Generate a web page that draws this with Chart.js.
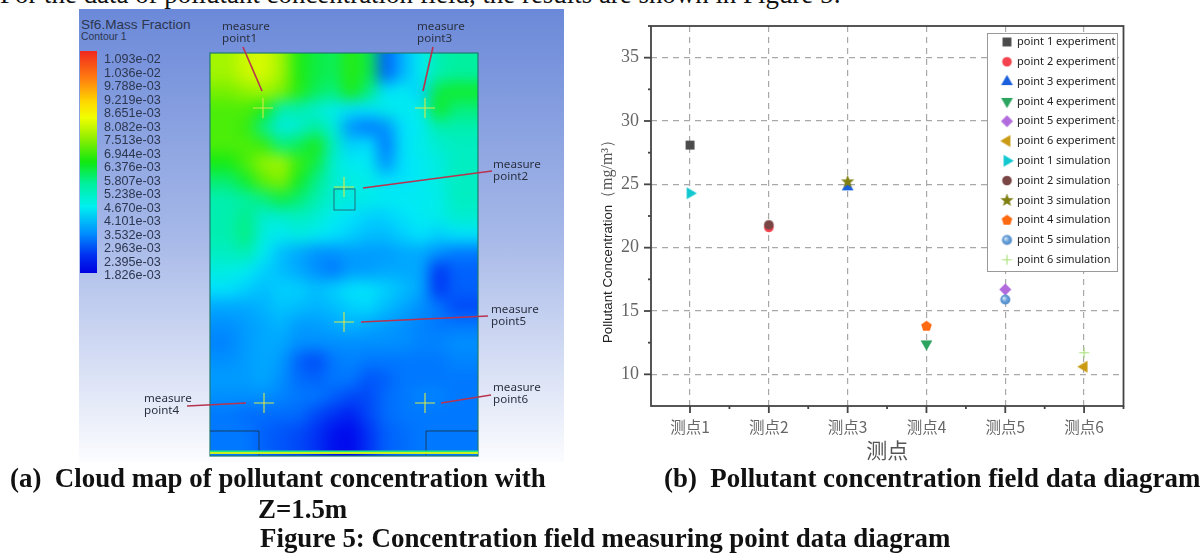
<!DOCTYPE html>
<html>
<head>
<meta charset="utf-8">
<script src="https://cdn.jsdelivr.net/npm/chart.js@4"></script>
<style>
html, body { margin: 0; background: #fff; }
#page { position: relative; width: 1200px; height: 553px; overflow: hidden; font-family: "Liberation Serif", serif; color: #111; }
.cap { position: absolute; font-size: 26.9px; font-weight: bold; white-space: nowrap; line-height: 30px; }
#topline { position: absolute; left: 0; top: -21px; font-size: 26.9px; white-space: nowrap; line-height: 30px; }
#panel { position: absolute; left: 79px; top: 9px; width: 485px; height: 453px; background: linear-gradient(#6b89d9, #a6b8e8 50%, #fbfcfe); }
#fieldClip { position: absolute; left: 210px; top: 53px; width: 268px; height: 403px; overflow: hidden; }
#fieldClip canvas { position: absolute; left: -38px; top: -38px; filter: blur(7.5px); }
#colorbar { position: absolute; left: 80px; top: 51px; width: 17px; height: 222px;
  background: linear-gradient(#f0281e, #ff7a10 12%, #ffd800 23%, #f0ff00 30%, #a0f000 38%, #10e810 50%, #00f0a0 60%, #00f0f0 70%, #0090ff 82%, #0030f0 92%, #0000e0); }
.lev { position: absolute; left: 104px; font: 12.6px "Liberation Sans", sans-serif; color: #2c3650; line-height: 14px; filter: blur(0.3px); }
.mlabel { position: absolute; font: 11.6px/11.8px "Noto Sans", sans-serif; color: #2a3040; white-space: pre; filter: blur(0.3px); }
#overlay { position: absolute; left: 0; top: 0; filter: blur(0.4px); }
#chartBox { position: absolute; left: 590px; top: 10px; width: 610px; height: 453px; filter: blur(0.45px); }
</style>
</head>
<body>
<div id="page">
  <div id="topline">For the data of pollutant concentration field, the results are shown in Figure 5:</div>
  <div id="panel"></div>
  <div id="fieldClip"><canvas id="fieldChart" width="344" height="479"></canvas></div>
  <div id="colorbar"></div>
  <div style="position:absolute;left:81px;top:17px;font:13.6px 'Liberation Sans',sans-serif;color:#2c3650">Sf6.Mass Fraction</div>
  <div style="position:absolute;left:81px;top:31px;font:10.4px 'Liberation Sans',sans-serif;color:#2c3650">Contour 1</div>
  <div id="levels"></div>
  <svg id="overlay" width="1200" height="553"></svg>
  <div id="mlabels"></div>
  <div id="chartBox"><canvas id="scatterChart" width="610" height="453"></canvas></div>
  <div class="cap" style="left:10px;top:463px;">(a)&nbsp; Cloud map of pollutant concentration with</div>
  <div class="cap" style="left:258px;top:494px;">Z=1.5m</div>
  <div class="cap" style="left:664px;top:463px;">(b)&nbsp; Pollutant concentration field data diagram</div>
  <div class="cap" style="left:260px;top:523px;">Figure 5: Concentration field measuring point data diagram</div>
</div>
<script>
// chart data
const categories = ['测点1', '测点2', '测点3', '测点4', '测点5', '测点6'];
const experiment = [28.1, 21.6, 24.8, 12.4, 16.7, 10.6];
const simulation = [24.3, 21.8, 25.2, 13.8, 15.9, 11.7];
const yTicks = [10, 15, 20, 25, 30, 35];

// contour legend
const contourLevels = ['1.093e-02', '1.036e-02', '9.788e-03', '9.219e-03', '8.651e-03', '8.082e-03', '7.513e-03', '6.944e-03', '6.376e-03', '5.807e-03', '5.238e-03', '4.670e-03', '4.101e-03', '3.532e-03', '2.963e-03', '2.395e-03', '1.826e-03'];

// mass fraction (x 1e-3) estimated by eye on a coarse grid, top row first
const fieldRows = [
  [8, 8.5, 8.6, 8, 6.5, 6, 5.8, 6.6, 6, 2.8, 3.5, 4.2, 5, 5.2],
  [7.5, 7.8, 8, 7.6, 6.6, 5.8, 5.5, 6.5, 5.5, 4, 4.2, 3.8, 6, 6.2],
  [7, 7, 6.5, 5, 5, 4.6, 4.3, 4, 4, 4.3, 4.2, 4.3, 6.3, 5.5],
  [7, 6.8, 5.4, 4.4, 4.6, 5.2, 4.5, 3.2, 3, 3.2, 4, 4.2, 5, 5],
  [7, 7, 6.8, 5.5, 5.8, 6.5, 4.8, 3.8, 4, 3, 4, 4.3, 4.6, 4.8],
  [6.4, 7, 7.8, 8, 6.8, 6, 4.6, 4.2, 4.2, 3.2, 4, 4.2, 4.4, 4.8],
  [5.6, 6.2, 7.2, 7.6, 6.3, 5.4, 4.6, 4.4, 4.3, 4, 4, 4.2, 4.4, 4.8],
  [5, 5.2, 5.5, 6, 5.6, 5, 4.6, 4.4, 4.3, 4.2, 4.2, 4.2, 4.3, 4.8],
  [5, 5.4, 4.6, 4.6, 4.8, 4.6, 4.2, 4, 3.8, 3.8, 4, 4.2, 4.3, 4.6],
  [5, 5.5, 4.4, 4.2, 4.4, 4.2, 4, 3.8, 3.6, 3.6, 3.8, 4, 3.8, 4],
  [4.8, 5, 4.2, 3.6, 3.4, 3.2, 3.2, 3.3, 3.3, 3.3, 3.4, 3.4, 3.2, 3],
  [4.4, 4.2, 3.8, 3.6, 3.4, 3.2, 3, 3.3, 3.3, 3.4, 3.4, 3.4, 2.4, 2.8],
  [4, 3.8, 3.6, 3.8, 3.8, 3.6, 3.8, 4, 4, 3.8, 3.6, 3.4, 2.4, 2.8],
  [3.4, 3.4, 3.5, 3.7, 3.6, 3.5, 3.6, 3.8, 3.9, 3.6, 3.4, 3.2, 3, 2.6],
  [3.2, 3.3, 3.4, 3.5, 3.3, 3.3, 3.4, 3.5, 3.4, 3.3, 3.2, 3.1, 3, 3],
  [3.1, 3.3, 3.4, 3.4, 3.2, 3.2, 3.2, 3.2, 3.2, 3.2, 3.2, 3.1, 3.1, 3.2],
  [3.2, 3.3, 3.4, 3.3, 2.8, 2.6, 3, 3.1, 3, 3, 3, 3, 3, 3.1],
  [3.3, 3.3, 3.4, 3.2, 2.9, 2.8, 3, 3, 2.7, 2.8, 3, 3, 3, 3],
  [3.2, 3.2, 3.2, 3.1, 3, 3, 2.8, 2.6, 2.6, 2.9, 3, 3.1, 3.1, 3],
  [3, 2.9, 2.9, 2.9, 2.9, 2.6, 2.4, 2.2, 2.6, 2.9, 3, 3, 3, 3],
  [3, 3, 2.8, 2.7, 2.6, 2.4, 2, 1.9, 2.4, 2.8, 2.9, 3, 3, 3]
];

// markers are small canvases so chart and legend show the same size
function markerCanvas(draw) {
  const c = document.createElement('canvas');
  c.width = 15; c.height = 15;
  draw(c.getContext('2d'), 7.5);
  return c;
}
function ring(n, r, angle, inner) {
  const pts = [];
  const steps = inner ? n * 2 : n;
  for (let i = 0; i < steps; i++) {
    const rad = inner && i % 2 ? inner : r;
    const a = angle + i * 2 * Math.PI / steps;
    pts.push([rad * Math.cos(a), rad * Math.sin(a)]);
  }
  return pts;
}
function polyMark(pts, color) {
  return markerCanvas((ctx, m) => {
    ctx.fillStyle = color;
    ctx.beginPath();
    pts.forEach(p => ctx.lineTo(m + p[0], m + p[1]));
    ctx.closePath();
    ctx.fill();
  });
}
function circleMark(color) {
  return markerCanvas((ctx, m) => {
    ctx.fillStyle = color;
    ctx.beginPath();
    ctx.arc(m, m, 4.8, 0, Math.PI * 2);
    ctx.fill();
  });
}
const sphereMark = markerCanvas((ctx, m) => {
  const g = ctx.createRadialGradient(m - 1.5, m - 1.5, 0.5, m, m, 5);
  g.addColorStop(0, '#d5e6f6');
  g.addColorStop(0.45, '#6da5dc');
  g.addColorStop(1, '#4a86c5');
  ctx.fillStyle = g;
  ctx.beginPath();
  ctx.arc(m, m, 5, 0, Math.PI * 2);
  ctx.fill();
});
const crossMark = markerCanvas((ctx, m) => {
  ctx.strokeStyle = '#a9e07a';
  ctx.lineWidth = 1.2;
  ctx.beginPath();
  ctx.moveTo(m - 5, m); ctx.lineTo(m + 5, m);
  ctx.moveTo(m, m - 5); ctx.lineTo(m, m + 5);
  ctx.stroke();
});
const PI = Math.PI;
const experimentMarks = [
  polyMark(ring(4, 6.3, PI / 4), '#4b4b4b'),
  circleMark('#f4434f'),
  polyMark(ring(3, 6.8, -PI / 2), '#1a5fdc'),
  polyMark(ring(3, 6.8, PI / 2), '#2aa45f'),
  polyMark(ring(4, 6, 0), '#b26bdd'),
  polyMark(ring(3, 6.8, PI), '#c99a12')
];
const simulationMarks = [
  polyMark(ring(3, 6.8, 0), '#10c8d0'),
  circleMark('#7a4545'),
  polyMark(ring(5, 6.9, -PI / 2, 2.9), '#7f7f12'),
  polyMark(ring(5, 5.6, -PI / 2), '#ff6a10'),
  sphereMark,
  crossMark
];

// simulation gets the lower order so it sits on top of experiment
function makeSeries(values, marks, suffix, order) {
  return values.map((v, i) => ({
    label: 'point ' + (i + 1) + ' ' + suffix,
    data: [{ x: i + 1, y: v }],
    pointStyle: marks[i],
    pointRadius: 6,
    borderWidth: 0,
    order: order
  }));
}

// frame, small ticks, the two-font y title and the white legend box
const axisFrame = {
  id: 'axisFrame',
  afterLayout(chart) {
    const legend = chart.legend;
    legend.left = 403.7; legend.right = 530;
    legend.top = 17.7; legend.bottom = 1000;
    if (!legend.boxWrapped) {
      const drawLegend = legend.draw.bind(legend);
      legend.draw = function () {
        const ctx = chart.ctx;
        ctx.save();
        ctx.fillStyle = '#fff';
        ctx.strokeStyle = '#9a9a9a';
        ctx.lineWidth = 1;
        ctx.fillRect(397.5, 23.5, 130, 238);
        ctx.strokeRect(397.5, 23.5, 130, 238);
        ctx.restore();
        drawLegend();
      };
      legend.boxWrapped = true;
    }
  },
  afterDraw(chart) {
    const { ctx, chartArea: a, scales } = chart;
    ctx.save();
    ctx.strokeStyle = '#444';
    ctx.lineWidth = 1.8;
    ctx.strokeRect(a.left, a.top, a.right - a.left, a.bottom - a.top);
    scales.y.ticks.forEach(t => {
      const y = scales.y.getPixelForValue(t.value);
      ctx.beginPath();
      ctx.moveTo(a.left, y);
      ctx.lineTo(a.left - (t.value % 5 === 0 ? 7 : 3), y);
      ctx.stroke();
    });
    scales.x.ticks.forEach(t => {
      const x = scales.x.getPixelForValue(t.value);
      ctx.beginPath();
      ctx.moveTo(x, a.bottom);
      ctx.lineTo(x, a.bottom + (Number.isInteger(t.value) ? 7 : 3));
      ctx.stroke();
    });
    ctx.translate(18, 333);
    ctx.rotate(-Math.PI / 2);
    ctx.textBaseline = 'middle';
    ctx.fillStyle = '#222';
    ctx.font = '13.3px "Liberation Sans"';
    ctx.fillText('Pollutant Concentration', 0, 0);
    ctx.fillStyle = '#555';
    ctx.font = '16px "Liberation Serif"';
    ctx.fillText('（mg/m³）', 137, 0);
    ctx.restore();
  }
};

new Chart(document.getElementById('scatterChart'), {
  type: 'scatter',
  data: {
    datasets: makeSeries(experiment, experimentMarks, 'experiment', 1)
      .concat(makeSeries(simulation, simulationMarks, 'simulation', 0))
  },
  plugins: [axisFrame],
  options: {
    responsive: false,
    animation: false,
    layout: { padding: { top: 16, right: 76.5 } },
    scales: {
      x: {
        type: 'linear',
        min: 0.505,
        max: 6.5,
        afterFit(s) { s.height = 57; },
        afterBuildTicks(s) {
          const list = [];
          for (let v = 1; v <= 6.5; v += 0.5) list.push({ value: v });
          s.ticks = list;
        },
        ticks: {
          autoSkip: false,
          maxRotation: 0,
          padding: 12,
          color: '#666',
          font: { family: '"Noto Sans CJK SC"', size: 15.5 },
          callback: v => Number.isInteger(v) ? categories[v - 1] : ''
        },
        grid: {
          drawTicks: false,
          color: c => Number.isInteger(c.tick.value) ? '#a8a8a8' : 'transparent',
          lineWidth: 1.2
        },
        border: { dash: [6, 5], display: false },
        title: {
          display: true,
          text: '测点',
          color: '#555',
          padding: { top: 0, bottom: 0 },
          font: { family: '"Noto Sans CJK SC"', size: 21 }
        }
      },
      y: {
        min: 7.5,
        max: 37.5,
        afterFit(s) { s.width = 61; s.paddingTop = 0; s.paddingBottom = 0; },
        afterBuildTicks(s) {
          const list = [];
          yTicks.forEach(v => { list.push({ value: v }); list.push({ value: v + 2.5 }); });
          s.ticks = list.sort((p, q) => p.value - q.value);
        },
        ticks: {
          autoSkip: false,
          padding: 12,
          color: '#666',
          font: { family: '"Liberation Serif"', size: 18 },
          callback: v => yTicks.includes(v) ? String(v) : ''
        },
        grid: {
          drawTicks: false,
          color: c => yTicks.includes(c.tick.value) ? '#a8a8a8' : 'transparent',
          lineWidth: 1.2
        },
        border: { dash: [6, 5], display: false }
      }
    },
    plugins: {
      tooltip: { enabled: false },
      legend: {
        position: 'chartArea',
        align: 'start',
        labels: {
          usePointStyle: true,
          boxWidth: 9,
          boxHeight: 9,
          padding: 8.8,
          color: '#222',
          font: { family: '"Noto Sans"', size: 11 },
          sort: (p, q) => p.datasetIndex - q.datasetIndex
        }
      }
    }
  }
});

// contour field: one square per grid cell, CSS blur smooths them
const colorStops = [
  [1.8, [0, 0, 235]], [2.4, [0, 50, 245]], [3, [0, 120, 255]], [3.5, [0, 180, 255]],
  [4.1, [0, 235, 250]], [5.2, [0, 240, 160]], [6.4, [20, 235, 20]], [7.5, [120, 240, 0]],
  [8.6, [215, 250, 0]], [9.8, [255, 190, 0]], [10.9, [240, 40, 30]]
];
function fieldColor(v) {
  for (let i = 1; i < colorStops.length; i++) {
    if (v <= colorStops[i][0]) {
      const lo = colorStops[i - 1], hi = colorStops[i];
      const f = (v - lo[0]) / (hi[0] - lo[0]);
      const c = lo[1].map((p, k) => Math.round(p + (hi[1][k] - p) * f));
      return 'rgb(' + c.join(',') + ')';
    }
  }
  return 'rgb(240,40,30)';
}
const fieldPoints = [];
const rowCount = fieldRows.length, colCount = fieldRows[0].length;
for (let r = -2; r < rowCount + 2; r++) {
  for (let c = -2; c < colCount + 2; c++) {
    const row = fieldRows[Math.min(rowCount - 1, Math.max(0, r))];
    fieldPoints.push({ x: c, y: r, v: row[Math.min(colCount - 1, Math.max(0, c))] });
  }
}
new Chart(document.getElementById('fieldChart'), {
  type: 'scatter',
  data: {
    datasets: [{
      data: fieldPoints,
      pointStyle: 'rect',
      pointRadius: 15,
      borderWidth: 0,
      backgroundColor: c => fieldColor(c.raw ? c.raw.v : 4)
    }]
  },
  options: {
    responsive: false,
    animation: false,
    layout: { padding: 0 },
    plugins: { legend: { display: false }, tooltip: { enabled: false } },
    scales: {
      x: { display: false, min: -2.5, max: 15.5 },
      y: { display: false, reverse: true, min: -2.5, max: 22.5 }
    }
  }
});

// contour legend labels
document.getElementById('levels').innerHTML = contourLevels
  .map((t, i) => '<div class="lev" style="top:' + (52 + i * 13.5) + 'px">' + t + '</div>').join('');

// callouts on the contour plot
const callouts = [
  { name: 'measure\npoint1', left: 222, top: 20, line: [243, 47, 262, 91], cross: [263, 108] },
  { name: 'measure\npoint3', left: 417, top: 20, line: [433, 47, 423, 91], cross: [425, 108] },
  { name: 'measure\npoint2', left: 493, top: 158, line: [492, 171, 363, 188], cross: [344, 187] },
  { name: 'measure\npoint5', left: 491, top: 303, line: [488, 316, 361, 322], cross: [344, 322] },
  { name: 'measure\npoint4', left: 144, top: 392, line: [187, 406, 246, 403], cross: [264, 403] },
  { name: 'measure\npoint6', left: 493, top: 381, line: [491, 395, 441, 403], cross: [425, 403] }
];
let svg = '<rect x="210" y="53" width="268" height="403" fill="none" stroke="#1f7a70" stroke-width="1.2"/>'
  + '<rect x="334" y="189" width="21" height="21" fill="none" stroke="#20707a" stroke-width="1"/>'
  + '<path d="M210 431H259V455M478 431H426V455" fill="none" stroke="#163f66" stroke-width="1"/>'
  + '<rect x="210" y="452" width="268" height="2" fill="#c8f020"/>'
  + '<rect x="210" y="450.5" width="268" height="1.5" fill="#20e880"/>';
callouts.forEach(o => {
  const [x1, y1, x2, y2] = o.line, [cx, cy] = o.cross;
  svg += '<line x1="' + x1 + '" y1="' + y1 + '" x2="' + x2 + '" y2="' + y2 + '" stroke="#b8334f" stroke-width="1.6"/>';
  svg += '<path d="M' + (cx - 10) + ' ' + cy + 'H' + (cx + 10) + 'M' + cx + ' ' + (cy - 10) + 'V' + (cy + 10) + '" stroke="#d8e84a" stroke-width="1.1"/>';
});
document.getElementById('overlay').innerHTML = svg;
document.getElementById('mlabels').innerHTML = callouts
  .map(o => '<div class="mlabel" style="left:' + o.left + 'px;top:' + o.top + 'px">' + o.name + '</div>').join('');
</script>
</body>
</html>
